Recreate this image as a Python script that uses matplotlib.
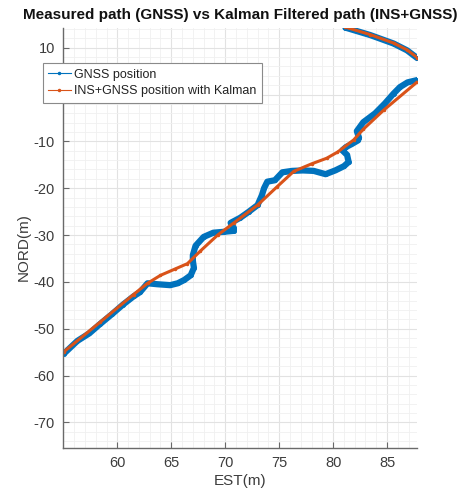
import matplotlib
matplotlib.use("Agg")
import matplotlib.pyplot as plt
from matplotlib.ticker import MultipleLocator
from matplotlib.lines import Line2D
import numpy as np

nan = np.nan

# GNSS position (EST, NORD), second piece after the break
gnss_est = [55.06, 56.3, 57.4, 58.4, 59.5, 60.5, 61.5, 62.1, 62.8, 63.7, 64.9,
            65.6, 66.2, 66.8, 67.1, 67.0, 67.0, 67.25, 68.0, 68.9, 69.9, 70.8,
            70.8, 70.5, 71.4, 72.2, 73.0, 73.4, 73.6, 73.9, 74.6, 75.3, 76.2,
            77.2, 78.2, 79.3, 80.2, 81.0, 81.44, 81.3, 80.85, 81.2, 81.7, 82.3,
            82.4, 82.2, 82.8, 83.9, 84.8, 85.6, 86.2, 86.9, 87.8,
            nan, 87.8, 86.85, 85.61, 83.45, 81.14]
gnss_nord = [-55.3, -52.6, -51.0, -49.0, -46.9, -44.9, -43.1, -42.2, -40.3, -40.5, -40.7,
             -40.3, -39.6, -38.6, -37.0, -35.5, -34.3, -32.3, -30.4, -29.5, -29.3, -29.1,
             -28.5, -27.4, -26.3, -25.0, -23.6, -21.5, -20.0, -18.6, -18.3, -16.6, -16.3,
             -16.2, -16.3, -17.0, -16.2, -15.3, -14.4, -12.9, -11.9, -11.2, -10.6, -9.8,
             -9.2, -7.8, -5.9, -4.0, -1.9, 0.2, 1.6, 2.6, 3.1,
             nan, 7.8, 9.45, 10.9, 12.7, 14.3]

# Kalman filtered position (INS+GNSS)
kal_est = [55.06, 58.4, 61.5, 62.8, 64.0, 65.3, 66.5, 67.7, 69.3, 70.8, 73.0,
           74.8, 76.35, 78.0, 79.4, 80.4, 81.9, 82.8, 84.7, 87.8,
           nan, 87.8, 86.85, 85.61, 83.45, 81.14]
kal_nord = [-54.9, -48.6, -42.7, -40.3, -38.6, -37.3, -36.1, -33.4, -30.0, -27.4, -23.6,
            -19.7, -16.4, -14.8, -13.6, -12.3, -9.7, -7.4, -3.3, 2.7,
            nan, 7.9, 9.55, 11.0, 12.8, 14.4]

xticks = [60, 65, 70, 75, 80, 85]

blue = "#0072BD"
orange = "#D95319"
txt = "#3c3c3c"

plt.rcParams["font.family"] = ["Liberation Sans", "DejaVu Sans"]
plt.rcParams["axes.unicode_minus"] = False

fig = plt.figure(figsize=(4.73, 4.93), dpi=100)
ax = fig.add_axes([0.134, 0.092, 0.747, 0.852])

ax.plot(gnss_est, gnss_nord, ".-", color=blue, lw=4.5, ms=5,
        solid_joinstyle="round", solid_capstyle="round")
ax.plot(kal_est, kal_nord, ".-", color=orange, lw=2.2, ms=3,
        solid_joinstyle="round", solid_capstyle="round")

ax.set_xlim(55.0, 87.75)
ax.set_ylim(-75.4, 14.3)
ax.set_xticks(xticks)
ax.xaxis.set_minor_locator(MultipleLocator(1))
ax.yaxis.set_major_locator(MultipleLocator(10))
ax.yaxis.set_minor_locator(MultipleLocator(2))

ax.grid(True, which="major", color="#e2e2e2", lw=0.8)
ax.grid(True, which="minor", color="#f0f0f0", lw=0.6)
ax.set_axisbelow(True)

for s in ["top", "right"]:
    ax.spines[s].set_visible(False)
for s in ["left", "bottom"]:
    ax.spines[s].set_color("#6a6a6a")
    ax.spines[s].set_linewidth(1.0)

ax.tick_params(which="major", direction="in", length=4, color="#6a6a6a",
               labelsize=10.5, labelcolor=txt, pad=6)
ax.tick_params(which="minor", length=0)

ax.set_xlabel("EST(m)", fontsize=11, color=txt, labelpad=3)
ax.set_ylabel("NORD(m)", fontsize=11, color=txt)
ax.yaxis.set_label_coords(-0.092, 0.478)
ax.set_title("Measured path (GNSS) vs Kalman Filtered path (INS+GNSS)",
             fontsize=11, fontweight="bold", color="#111111", pad=6)

handles = [Line2D([], [], color=blue, marker=".", lw=0.8, ms=3),
           Line2D([], [], color=orange, marker=".", lw=0.8, ms=3)]
leg = ax.legend(handles, ["GNSS position", "INS+GNSS position with Kalman"],
                loc="upper left", bbox_to_anchor=(0.090, 0.872),
                bbox_transform=fig.transFigure, borderaxespad=0,
                fontsize=9, fancybox=False, framealpha=1,
                handlelength=1.8, handletextpad=0.3, borderpad=0.45,
                labelspacing=0.35)
leg.get_frame().set_edgecolor("#8a8a8a")
leg.get_frame().set_linewidth(0.8)
for t in leg.get_texts():
    t.set_color("#222222")

fig.savefig("out.png", dpi=100)
